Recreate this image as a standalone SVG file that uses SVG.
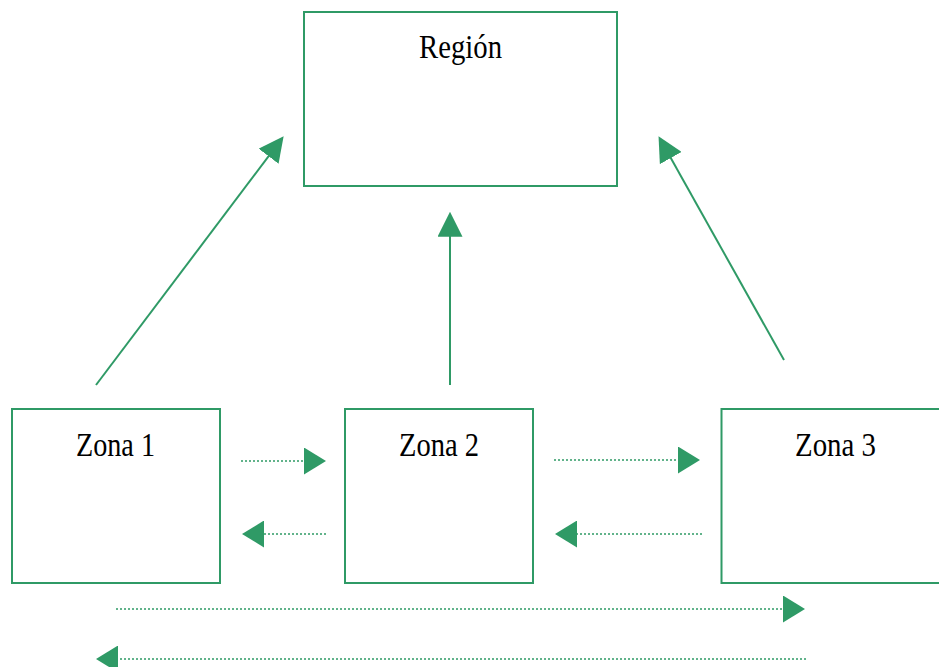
<svg xmlns="http://www.w3.org/2000/svg" width="939" height="667" viewBox="0 0 939 667">
  <style>
    .box { fill: #ffffff; stroke: #2f9a66; stroke-width: 2; }
    .label { font-family: "Liberation Serif", "Times New Roman", serif; font-size: 34px; fill: #000000; text-anchor: start; }
    .solid { fill: none; stroke: #2f9a66; stroke-width: 2; }
    .dotted { fill: none; stroke: #2f9a66; stroke-width: 1.6; stroke-dasharray: 2 2; }
  </style>
  <defs>
    <marker id="headSolid" markerUnits="userSpaceOnUse" viewBox="0 -12.5 25 25" markerWidth="25" markerHeight="25" refX="12" refY="0" orient="auto">
      <path d="M0,-12.5 L25,0 L0,12.5 z" fill="#2f9a66" stroke="none"/>
    </marker>
    <marker id="headDotted" markerUnits="userSpaceOnUse" viewBox="0 -13.5 22 27" markerWidth="22" markerHeight="27" refX="12" refY="0" orient="auto">
      <path d="M0,-13.5 L22,0 L0,13.5 z" fill="#2f9a66" stroke="none"/>
    </marker>
  </defs>

  <rect x="0" y="0" width="939" height="667" fill="#ffffff"/>

  <g id="region">
    <rect class="box" x="304" y="12" width="313" height="174"/>
    <text class="label" x="419" y="58" textLength="83" lengthAdjust="spacingAndGlyphs">Región</text>
  </g>

  <g id="zona1">
    <rect class="box" x="12" y="409" width="208" height="174"/>
    <text class="label" x="76" y="456" textLength="79" lengthAdjust="spacingAndGlyphs">Zona 1</text>
  </g>

  <g id="zona2">
    <rect class="box" x="345" y="409" width="188" height="174"/>
    <text class="label" x="399" y="456" textLength="80" lengthAdjust="spacingAndGlyphs">Zona 2</text>
  </g>

  <g id="zona3">
    <rect class="box" x="721.5" y="409" width="240" height="174"/>
    <text class="label" x="795" y="456" textLength="81" lengthAdjust="spacingAndGlyphs">Zona 3</text>
  </g>

  <g id="connectors">
    <!-- zones up to the region -->
    <path class="solid" d="M96,385 L275.8,146.7" marker-end="url(#headSolid)"/>
    <path class="solid" d="M450,385 L450,224.7" marker-end="url(#headSolid)"/>
    <path class="solid" d="M784,360 L664.9,147.6" marker-end="url(#headSolid)"/>

    <!-- exchanges between neighbouring zones -->
    <path class="dotted" d="M241,461 H316" marker-end="url(#headDotted)"/>
    <path class="dotted" d="M326,534 H252" marker-end="url(#headDotted)"/>
    <path class="dotted" d="M554,460 H690" marker-end="url(#headDotted)"/>
    <path class="dotted" d="M702,534 H565" marker-end="url(#headDotted)"/>

    <!-- exchanges between zone 1 and zone 3 -->
    <path class="dotted" d="M116,609 H795" marker-end="url(#headDotted)"/>
    <path class="dotted" d="M806,659 H106" marker-end="url(#headDotted)"/>
  </g>
</svg>
